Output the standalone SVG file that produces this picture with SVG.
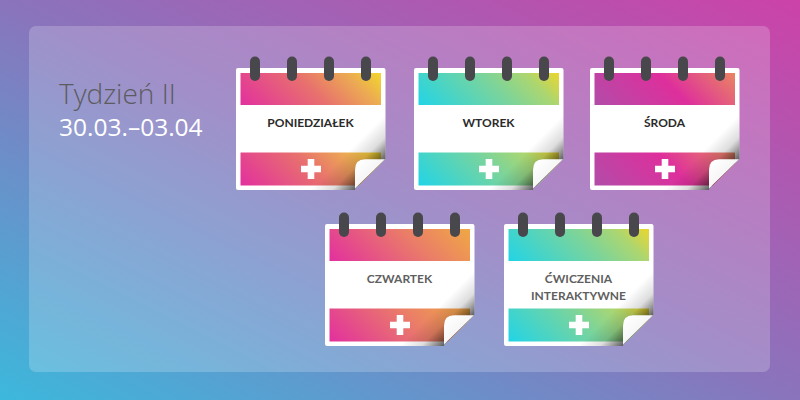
<svg xmlns="http://www.w3.org/2000/svg" xmlns:xlink="http://www.w3.org/1999/xlink" width="800" height="400" viewBox="0 0 800 400">
<style>
.lbl{font-family:"Lato","Liberation Sans",sans-serif;font-weight:700;font-size:12px;text-anchor:middle}
.dark{fill:#2b2b2b}.grey{fill:#5f5f5f}
.ring{fill:#48484c}
</style>
<defs>
<linearGradient id="bg" gradientUnits="userSpaceOnUse" x1="240" y1="520" x2="560" y2="-120">
<stop offset="0" stop-color="#3cb8dc"/><stop offset=".5" stop-color="#8a74bc"/><stop offset="1" stop-color="#cc42a8"/>
</linearGradient>
<linearGradient id="g1" gradientUnits="userSpaceOnUse" x1="32" y1="64" x2="118" y2="-22"><stop offset="0" stop-color="#e2309e"/><stop offset=".5" stop-color="#e8706e"/><stop offset=".8" stop-color="#ecab52"/><stop offset="1" stop-color="#f2d82c"/></linearGradient>
<linearGradient id="g2" gradientUnits="userSpaceOnUse" x1="32" y1="64" x2="118" y2="-22"><stop offset="0" stop-color="#22d4e6"/><stop offset=".55" stop-color="#7cd49a"/><stop offset=".8" stop-color="#acd670"/><stop offset="1" stop-color="#ecd62c"/></linearGradient>
<linearGradient id="g3" gradientUnits="userSpaceOnUse" x1="32" y1="64" x2="118" y2="-22"><stop offset="0" stop-color="#b24ca8"/><stop offset=".55" stop-color="#de2f9c"/><stop offset="1" stop-color="#e98562"/></linearGradient>
<linearGradient id="g4" gradientUnits="userSpaceOnUse" x1="32" y1="64" x2="118" y2="-22"><stop offset="0" stop-color="#e2309e"/><stop offset=".6" stop-color="#ea7d68"/><stop offset="1" stop-color="#f0a845"/></linearGradient>
<linearGradient id="g1b" href="#g1" gradientTransform="translate(0 80)"/>
<linearGradient id="g2b" href="#g2" gradientTransform="translate(0 80)"/>
<linearGradient id="g3b" href="#g3" gradientTransform="translate(0 80)"/>
<linearGradient id="g4b" href="#g4" gradientTransform="translate(0 80)"/>
<linearGradient id="shade" gradientUnits="userSpaceOnUse" x1="112" y1="84" x2="134" y2="106">
<stop offset="0" stop-color="#000" stop-opacity="0"/><stop offset=".5" stop-color="#000" stop-opacity=".13"/><stop offset=".8" stop-color="#000" stop-opacity=".42"/><stop offset="1" stop-color="#000" stop-opacity=".62"/>
</linearGradient>
<linearGradient id="foldg" gradientUnits="userSpaceOnUse" x1="122" y1="94" x2="136" y2="108">
<stop offset="0" stop-color="#fff"/><stop offset="1" stop-color="#f4f4f4"/>
</linearGradient>
<path id="sheet" d="M2 0H147.500Q149.500 0 149.500 2V91L119.500 120.500L119 122H2Q0 122 0 120V2Q0 0 2 0Z" fill="#fff"/>
<path id="shadow" d="M74 122L149.500 46.500V91L119.500 120.500L119 122Z" fill="url(#shade)"/>
<path id="fold" d="M149 91.300H129Q119 91.300 119 102V120.500Z" fill="url(#foldg)"/>
<path id="low" d="M4.500 84.500H145V95.500L123 117.500H4.500Z"/>
<g id="rings">
<rect class="ring" x="14" y="-11.500" width="10" height="24.500" rx="5"/>
<rect class="ring" x="51" y="-11.500" width="10" height="24.500" rx="5"/>
<rect class="ring" x="88" y="-11.500" width="10" height="24.500" rx="5"/>
<rect class="ring" x="125" y="-11.500" width="10" height="24.500" rx="5"/>
</g>
<path id="plus" d="M71.700 91H78.300V97.700H85V104.300H78.300V111H71.700V104.300H65V97.700H71.700Z" fill="#fff"/>
</defs>
<rect id="background" width="800" height="400" fill="url(#bg)"/>
<rect id="panel" x="29" y="26" width="741" height="346" rx="7" fill="#fff" fill-opacity=".2"/>
<g id="title">
<text x="59" y="104" font-family="'Open Sans','Liberation Sans',sans-serif" font-weight="300" font-size="28" fill="#5c5c60">Tydzień II</text>
<text x="59" y="136" font-family="'Open Sans','Liberation Sans',sans-serif" font-size="24.500" fill="#fff">30.03.–03.04</text>
</g>
<g id="poniedzialek" transform="translate(236 68)">
<use href="#sheet"/>
<rect x="4.500" y="5" width="140.500" height="32" fill="url(#g1)"/>
<use href="#low" fill="url(#g1b)"/>
<use href="#shadow"/><use href="#fold"/><use href="#plus"/><use href="#rings"/>
<text class="lbl dark" x="74.500" y="59">PONIEDZIAŁEK</text>
</g>
<g id="wtorek" transform="translate(414 68)">
<use href="#sheet"/>
<rect x="4.500" y="5" width="140.500" height="32" fill="url(#g2)"/>
<use href="#low" fill="url(#g2b)"/>
<use href="#shadow"/><use href="#fold"/><use href="#plus"/><use href="#rings"/>
<text class="lbl dark" x="74.500" y="59">WTOREK</text>
</g>
<g id="sroda" transform="translate(590 68)">
<use href="#sheet"/>
<rect x="4.500" y="5" width="140.500" height="32" fill="url(#g3)"/>
<use href="#low" fill="url(#g3b)"/>
<use href="#shadow"/><use href="#fold"/><use href="#plus"/><use href="#rings"/>
<text class="lbl dark" x="74.500" y="59">ŚRODA</text>
</g>
<g id="czwartek" transform="translate(325 224)">
<use href="#sheet"/>
<rect x="4.500" y="5" width="140.500" height="32" fill="url(#g4)"/>
<use href="#low" fill="url(#g4b)"/>
<use href="#shadow"/><use href="#fold"/><use href="#plus"/><use href="#rings"/>
<text class="lbl grey" x="74.500" y="59">CZWARTEK</text>
</g>
<g id="cwiczenia" transform="translate(504 224)">
<use href="#sheet"/>
<rect x="4.500" y="5" width="140.500" height="32" fill="url(#g2)"/>
<use href="#low" fill="url(#g2b)"/>
<use href="#shadow"/><use href="#fold"/><use href="#plus"/><use href="#rings"/>
<text class="lbl grey" x="74.500" y="59">ĆWICZENIA</text>
<text class="lbl grey" x="74.500" y="75.500">INTERAKTYWNE</text>
</g>
</svg>
